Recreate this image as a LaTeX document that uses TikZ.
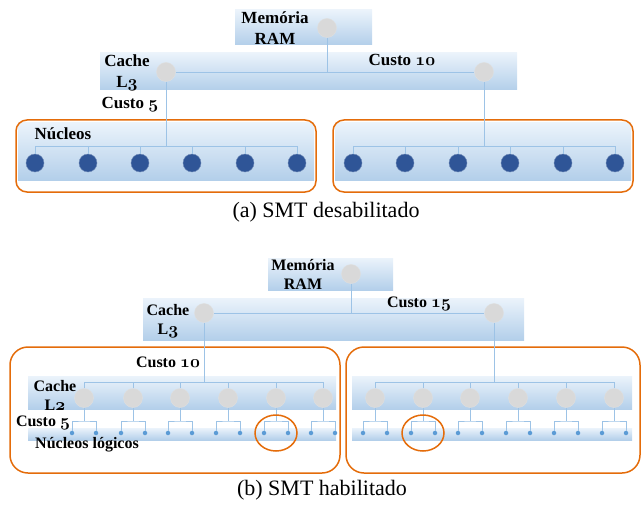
\documentclass[tikz,border=0pt]{standalone}
\usepackage{fontspec}
\setmainfont{Liberation Serif}
\usetikzlibrary{positioning}

\definecolor{bandtop}{HTML}{EBF3FB}
\definecolor{bandbot}{HTML}{B3CFEA}
\definecolor{wireblue}{HTML}{9DC3E6}
\definecolor{cachegray}{HTML}{D9D9D9}
\definecolor{coreblue}{HTML}{2F5597}
\definecolor{threadblue}{HTML}{5B9BD5}
\definecolor{smtorange}{HTML}{E46C0A}

% old-style digits as in the labels
\newcommand{\onum}[1]{{\boldmath$\mathnormal{#1}$}}

\begin{document}
\begin{tikzpicture}[
  x=1pt, y=-1pt,
  cachenode/.style={circle, draw=gray!25, fill=cachegray, minimum size=19pt, inner sep=0pt},
  corenode/.style={circle, draw=coreblue!70!white, fill=coreblue, minimum size=18pt, inner sep=0pt},
  threadnode/.style={circle, fill=threadblue, minimum size=4.5pt, inner sep=0pt},
  wire/.style={draw=wireblue, line width=0.9pt},
  lbl/.style={font=\fontsize{17}{21}\selectfont\bfseries, align=center, inner sep=0pt},
  lblb/.style={font=\fontsize{16}{19}\selectfont\bfseries, align=center, inner sep=0pt},
  band/.style={top color=bandtop, bottom color=bandbot, draw=none},
  grupo/.style={draw=smtorange, line width=1.5pt, rounded corners=11pt},
  ring/.style={draw=smtorange, line width=1.5pt},
  caption/.style={font=\fontsize{22}{24}\selectfont, inner sep=0pt}
]
  \useasboundingbox (0,0) rectangle (644,505);

  % (a) SMT desabilitado
  \fill[band] (235,10) rectangle (372,45);
  \fill[band] (100,53) rectangle (517,90);
  \fill[band] (18,123) rectangle (314,180);
  \fill[band] (335,123) rectangle (631,180);
  \draw[grupo] (16,120) rectangle (316,192);
  \draw[grupo] (333,120) rectangle (633,192);

  \node[cachenode] (ram)  at (327,28) {};
  \node[cachenode] (l3a)  at (166,72) {};
  \node[cachenode] (l3b)  at (484,72) {};
  \node[lbl] (ramlbl) at (275,28)  {Memória\\RAM};
  \node[lbl] (l3lbl)  at (127,73)  {Cache\\L\onum{3}};
  \node[lbl] (custoa) at (402,60)  {Custo \onum{10}};
  \node[lbl] (custob) at (130,105) {Custo \onum{5}};
  \node[lbl] (nucl)   at (63,134)  {Núcleos};

  \foreach \x [count=\i] in {35,88,140,192,245,297}
    \node[corenode] (ca\i) at (\x,163) {};
  \foreach \x [count=\i] in {353,405,458,510,563,615}
    \node[corenode] (cb\i) at (\x,163) {};
  \coordinate (busa) at (166,146);
  \coordinate (busb) at (484,146);

  \draw[wire] (ram) -- (ram |- l3a);
  \draw[wire] (l3a) -- (l3b);
  \draw[wire] (l3a) -- (busa);
  \draw[wire] (l3b) -- (busb);
  \draw[wire] (ca1 |- busa) -- (ca6 |- busa);
  \draw[wire] (cb1 |- busb) -- (cb6 |- busb);
  \foreach \i in {1,...,6} {
    \draw[wire] (ca\i) -- (ca\i |- busa);
    \draw[wire] (cb\i) -- (cb\i |- busb);
  }

  \node[caption] (capa) at (326,212) {(a) SMT desabilitado};

  % (b) SMT habilitado
  \fill[band] (268,258) rectangle (393,290);
  \fill[band] (143,298) rectangle (524,340);
  \fill[band] (28,376) rectangle (336,409);
  \fill[band] (352,376) rectangle (632,409);
  \fill[band] (28,428) rectangle (336,440);
  \fill[band] (352,428) rectangle (632,440);
  \draw[grupo, rounded corners=18pt] (10,347) rectangle (340,473);
  \draw[grupo, rounded corners=18pt] (346,347) rectangle (640,473);

  \node[cachenode] (ramb) at (351,274) {};
  \node[cachenode] (l3c)  at (204,313) {};
  \node[cachenode] (l3d)  at (494,313) {};
  \node[lblb] (ramlblb) at (303,274) {Memória\\RAM};
  \node[lblb] (l3lblb)  at (168,321) {Cache\\L\onum{3}};
  \node[lblb] (custoc)  at (419,304) {Custo \onum{15}};
  \node[lblb] (custod)  at (168,362) {Custo \onum{10}};
  \node[lblb] (l2lbl)   at (55,395)  {Cache\\L\onum{2}};
  \node[lblb] (custoe)  at (43,423)  {Custo \onum{5}};
  \node[lblb] (logic)   at (87,445)  {Núcleos lógicos};

  \coordinate (l2bara) at (204,382);
  \coordinate (l2barb) at (494,382);
  \coordinate (fork)   at (0,421);

  \foreach \x [count=\i] in {84,133,180,228,276,323} {
    \node[cachenode] (l2a\i) at (\x,398) {};
    \node[threadnode] (tla\i) at (\x-12,433) {};
    \node[threadnode] (tra\i) at (\x+12,433) {};
  }
  \foreach \x [count=\i] in {375,423,470,518,566,614} {
    \node[cachenode] (l2b\i) at (\x,398) {};
    \node[threadnode] (tlb\i) at (\x-12,433) {};
    \node[threadnode] (trb\i) at (\x+12,433) {};
  }

  \draw[wire] (ramb) -- (ramb |- l3c);
  \draw[wire] (l3c) -- (l3d);
  \draw[wire] (l3c) -- (l2bara);
  \draw[wire] (l3d) -- (l2barb);
  \draw[wire] (l2a1 |- l2bara) -- (l2a6 |- l2bara);
  \draw[wire] (l2b1 |- l2barb) -- (l2b6 |- l2barb);
  \foreach \i in {1,...,6} {
    \draw[wire] (l2a\i) -- (l2a\i |- l2bara);
    \draw[wire] (l2b\i) -- (l2b\i |- l2barb);
    \draw[wire] (l2a\i) -- (l2a\i |- fork);
    \draw[wire] (l2b\i) -- (l2b\i |- fork);
    \draw[wire] (tla\i) |- (l2a\i |- fork) -| (tra\i);
    \draw[wire] (tlb\i) |- (l2b\i |- fork) -| (trb\i);
  }

  \draw[ring] (l2a5 |- tla5) ellipse [x radius=21pt, y radius=18pt];
  \draw[ring] (l2b2 |- tlb2) ellipse [x radius=21pt, y radius=18pt];

  \node[caption] (capb) at (322,490) {(b) SMT habilitado};
\end{tikzpicture}
\end{document}
